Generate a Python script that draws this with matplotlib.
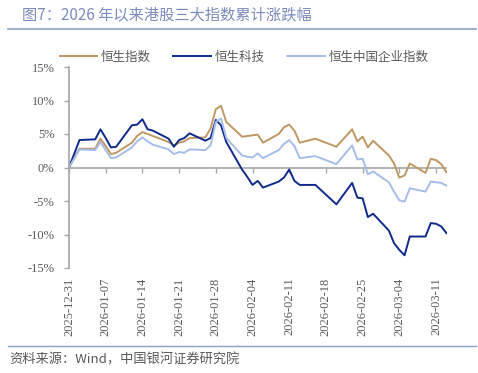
import pandas as pd
import matplotlib
matplotlib.use('Agg')
import matplotlib.pyplot as plt
import matplotlib.dates as mdates
from matplotlib.lines import Line2D
from matplotlib.ticker import FuncFormatter

dates = ['2025-12-31', '2026-01-02', '2026-01-05', '2026-01-06', '2026-01-07', '2026-01-08', '2026-01-09',
         '2026-01-12', '2026-01-13', '2026-01-14', '2026-01-15', '2026-01-16',
         '2026-01-19', '2026-01-20', '2026-01-21', '2026-01-22', '2026-01-23',
         '2026-01-26', '2026-01-27', '2026-01-28', '2026-01-29', '2026-01-30',
         '2026-02-02', '2026-02-03', '2026-02-04', '2026-02-05', '2026-02-06',
         '2026-02-09', '2026-02-10', '2026-02-11', '2026-02-12', '2026-02-13',
         '2026-02-16', '2026-02-20',
         '2026-02-23', '2026-02-24', '2026-02-25', '2026-02-26', '2026-02-27',
         '2026-03-02', '2026-03-03', '2026-03-04', '2026-03-05', '2026-03-06',
         '2026-03-09', '2026-03-10', '2026-03-11', '2026-03-12', '2026-03-13']

hsi = [0, 2.8, 2.8, 4.3, 3.2, 2.0, 2.2,
       3.7, 4.7, 5.3, 5.0, 4.7,
       3.8, 3.3, 3.7, 3.9, 4.4,
       4.5, 5.8, 8.7, 9.2, 6.8,
       4.6, 4.7, 4.8, 4.9, 3.7,
       5.0, 6.0, 6.4, 5.5, 3.7,
       4.3, 3.1,
       5.7, 3.9, 4.6, 3.0, 4.0,
       1.8, 0.6, -1.5, -1.2, 0.6,
       -0.8, 1.3, 1.1, 0.5, -0.7]

hstech = [0, 4.1, 4.2, 5.7, 4.4, 3.0, 3.1,
          6.3, 6.4, 7.2, 5.7, 5.5,
          4.3, 3.1, 4.1, 4.4, 5.1,
          4.0, 4.4, 7.1, 6.3, 3.8,
          -0.3, -1.4, -2.6, -2.0, -3.0,
          -2.1, -1.5, -0.3, -2.0, -2.6,
          -2.6, -5.5,
          -2.3, -4.5, -4.6, -7.4, -6.9,
          -9.4, -11.3, -12.3, -13.1, -10.3,
          -10.3, -8.3, -8.4, -8.8, -9.8]

hscei = [0, 2.7, 2.6, 3.8, 2.6, 1.4, 1.5,
         3.0, 3.9, 4.5, 3.9, 3.4,
         2.7, 2.0, 2.3, 2.2, 2.7,
         2.6, 3.3, 6.8, 7.3, 4.4,
         1.8, 1.6, 1.5, 2.1, 1.4,
         2.6, 3.5, 4.1, 3.2, 1.4,
         1.7, 0.5,
         3.3, 1.2, 1.3, -1.0, -0.6,
         -2.2, -3.6, -4.9, -5.1, -3.1,
         -3.6, -2.1, -2.2, -2.3, -2.7]

tick_dates = ['2025-12-31', '2026-01-07', '2026-01-14', '2026-01-21', '2026-01-28', '2026-02-04',
              '2026-02-11', '2026-02-18', '2026-02-25', '2026-03-04', '2026-03-11']

names = ['恒生指数', '恒生科技', '恒生中国企业指数']
colors = ['#bf9762', '#0e2a8a', '#a5bde9']

CJK = ['Noto Sans CJK SC', 'DejaVu Sans']
SERIF = 'Liberation Serif'
GRAY = '#595959'
AXGRAY = '#a6a6a6'

x = pd.to_datetime(dates)
ticks = pd.to_datetime(tick_dates)

fig = plt.figure(figsize=(4.78, 3.73), dpi=100)
ax = fig.add_axes([69 / 478, 1 - 268 / 373, (446.5 - 69) / 478, (268 - 67) / 373])

for vals, name, c in zip([hsi, hstech, hscei], names, colors):
    ax.plot(x, vals, color=c, lw=1.4, label=name)

ax.set_xlim(x[0], x[-1])
ax.set_ylim(-15, 15)
ax.set_yticks(range(-15, 16, 5))
ax.yaxis.set_major_formatter(FuncFormatter(lambda v, p: f'{v:.0f}%'))
ax.set_xticks(ticks)
ax.xaxis.set_major_formatter(mdates.DateFormatter('%Y-%m-%d'))
ax.tick_params(axis='x', length=0, pad=7, labelrotation=90, labelsize=9, labelcolor=GRAY)
ax.tick_params(axis='y', length=3.5, width=1, color=AXGRAY, pad=7, labelsize=9, labelcolor=GRAY)
for lab in ax.get_xticklabels() + ax.get_yticklabels():
    lab.set_family(SERIF)
for s in ['top', 'right', 'bottom']:
    ax.spines[s].set_visible(False)
ax.spines['left'].set_color(AXGRAY)
ax.spines['left'].set_linewidth(1.2)

# zero line with its own tick marks
sec = ax.secondary_xaxis(0.5)
sec.set_alignment('bottom')
sec.set_xticks(mdates.date2num(ticks))
sec.tick_params(axis='x', length=3.5, width=1, color=AXGRAY, labelbottom=False)
sec.spines['bottom'].set_color(AXGRAY)
sec.spines['bottom'].set_linewidth(1.2)

fig.text(22 / 478, 1 - 15 / 373, '图7：2026 年以来港股三大指数累计涨跌幅', fontsize=11,
         color='#7b8bbd', ha='left', va='center', family=CJK)
fig.add_artist(Line2D([8 / 478, 476 / 478], [1 - 29 / 373] * 2, color='#8c9ecb', lw=1.2))
fig.add_artist(Line2D([8 / 478, 476 / 478], [1 - 346 / 373] * 2, color='#8c9ecb', lw=1.0))
fig.text(9 / 478, 1 - 360 / 373, '资料来源：Wind，中国银河证券研究院', fontsize=9.5,
         color=GRAY, ha='left', va='center', family=CJK)

fig.legend(loc='center', bbox_to_anchor=(244 / 478, 1 - 57 / 373), ncol=3, frameon=False,
           handlelength=3, handletextpad=0.3, columnspacing=1.8,
           prop={'family': CJK, 'size': 9}, labelcolor=GRAY)

fig.savefig('out.png', dpi=100)
